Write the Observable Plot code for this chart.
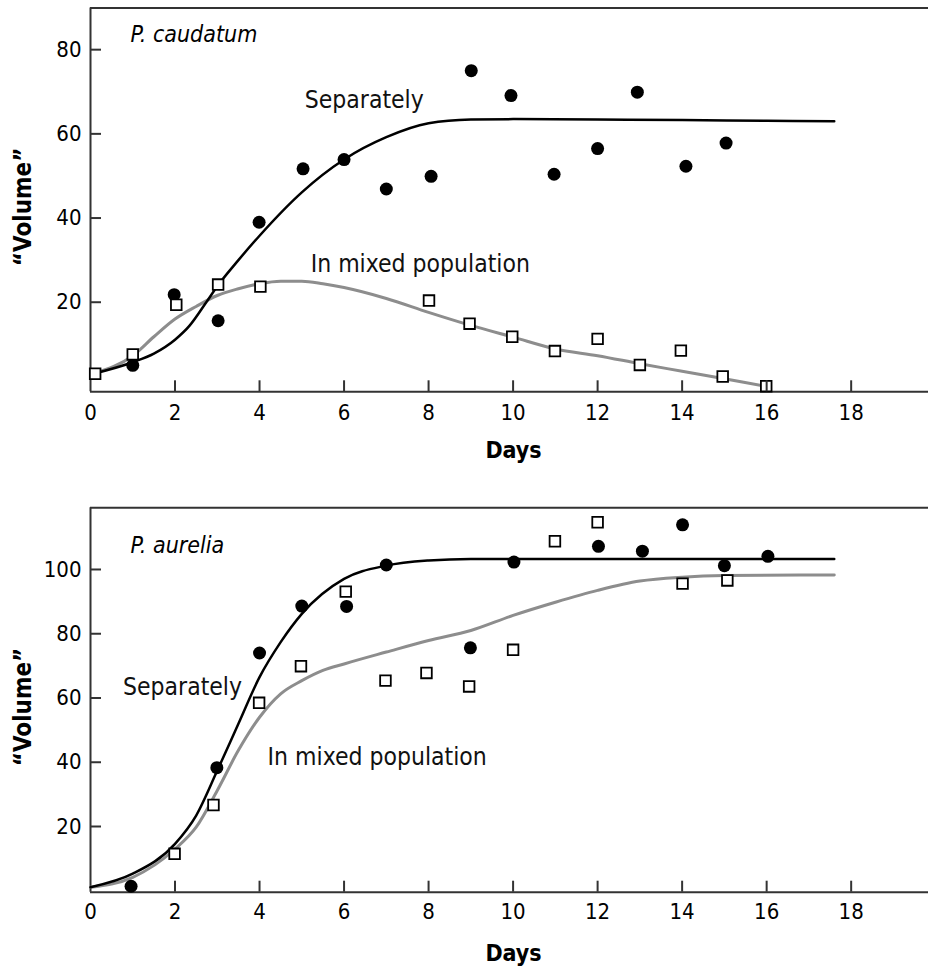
<!DOCTYPE html>
<html><head><meta charset="utf-8">
<script src="https://cdn.jsdelivr.net/npm/d3@7"></script>
<script src="https://cdn.jsdelivr.net/npm/@observablehq/plot@0.6"></script>
<style>
body{margin:0;background:#fff;}
#chart svg{display:block;}
</style></head><body><div id="chart"></div>
<script>
// ---------- data ----------
const xTicks = [0, 2, 4, 6, 8, 10, 12, 14, 16, 18];
const yTicksTop = [20, 40, 60, 80];
const yTicksBottom = [20, 40, 60, 80, 100];
const titleTop = "P. caudatum";
const titleBottom = "P. aurelia";
const yLabel = "\u201CVolume\u201D";
const xLabel = "Days";

// P. caudatum, grown separately (filled circles)
const cauSepDays = [1.0, 1.98, 3.02, 3.99, 5.03, 6.0, 7.0, 8.06, 9.01, 9.95, 10.97, 12.0, 12.94, 14.09, 15.04];
const cauSepVals = [5.0, 21.8, 15.6, 39.0, 51.7, 53.9, 46.9, 49.9, 75.0, 69.1, 50.4, 56.5, 69.9, 52.3, 57.8];
// P. caudatum, mixed population (open squares)
const cauMixDays = [0.11, 1.0, 2.03, 3.02, 4.02, 8.01, 8.97, 9.98, 10.99, 12.0, 13.0, 13.97, 14.96, 15.99];
const cauMixVals = [3.0, 7.6, 19.4, 24.2, 23.7, 20.4, 14.9, 11.8, 8.4, 11.3, 5.1, 8.5, 2.35, 0.05];
// fitted curves
const cauSepCurveDays = [0.1, 1, 1.5, 2, 2.35, 2.74, 3, 3.5, 4, 5, 6, 7, 8, 9, 10, 12, 14, 16, 17.6];
const cauSepCurveVals = [3.1, 5.75, 7.8, 11.1, 14.5, 20.0, 23.8, 30.0, 35.8, 46.1, 53.9, 59.2, 62.5, 63.4, 63.5, 63.4, 63.3, 63.1, 63.0];
const cauMixCurveDays = [0.1, 1, 1.5, 2, 2.5, 3, 3.5, 4, 4.5, 5, 5.5, 6, 7, 8, 9, 10, 11, 12, 13, 14, 15, 16];
const cauMixCurveVals = [3.1, 7.3, 11.8, 16.0, 19.0, 21.6, 23.2, 24.4, 25.0, 25.0, 24.4, 23.5, 20.9, 17.6, 14.5, 11.7, 8.9, 7.3, 5.4, 3.6, 1.8, 0];

// P. aurelia, grown separately
const aurSepDays = [0.96, 2.99, 4.0, 5.0, 6.06, 7.0, 8.99, 10.02, 12.02, 13.06, 14.01, 15.0, 16.03];
const aurSepVals = [1.4, 38.3, 74.0, 88.6, 88.5, 101.4, 75.6, 102.3, 107.2, 105.7, 113.9, 101.2, 104.1];
// P. aurelia, mixed population
const aurMixDays = [1.99, 2.91, 3.99, 4.98, 6.04, 6.98, 7.95, 8.96, 10.0, 10.99, 12.0, 14.01, 15.07];
const aurMixVals = [11.5, 26.7, 58.5, 69.9, 93.1, 65.4, 67.8, 63.6, 75.0, 108.8, 114.7, 95.6, 96.6];
const aurSepCurveDays = [0, 1, 2, 2.5, 3, 3.5, 4, 4.5, 5, 6, 7, 8, 9, 12, 17.6];
const aurSepCurveVals = [1.1, 5.3, 14.6, 23.4, 37.4, 52, 66.5, 77.4, 86.2, 97.1, 101.2, 102.8, 103.3, 103.3, 103.3];
const aurMixCurveDays = [0, 1, 2, 2.5, 3, 3.5, 4, 4.5, 5, 5.5, 6, 7, 8, 9, 10, 11, 12, 13, 14, 15, 17.6];
const aurMixCurveVals = [1.1, 4.2, 13, 19.8, 31.2, 43.7, 54, 61.3, 65.4, 68.6, 70.6, 74.3, 77.9, 81, 85.7, 89.8, 93.5, 96.4, 97.6, 98.1, 98.3];

// curve labels (anchored in data space)
const labelTexts = ["Separately", "In mixed population"];
const cauLabelDays = [5.07, 5.21];
const cauLabelVals = [67.9, 29.0];
const aurLabelDays = [0.77, 4.19];
const aurLabelVals = [63.3, 41.5];

// ---------- helpers ----------
const zip = (xs, ys) => xs.map((d, i) => ({day: d, value: ys[i]}));
const FONT = "'DejaVu Sans Condensed', 'DejaVu Sans', sans-serif";
const FRAME = "#333";
const GRAY = "#8d8d8d";
const W = 928, ML = 90, MR = 0, TICK = 11;

function panel({height, marginTop, marginBottom, yDomain, yTicks, title, titleDy,
                sepPts, mixPts, sepCurve, mixCurve, labels, xPad, daysDy, volDy}) {
  const xDomain = [0, 19.83];
  return Plot.plot({
    width: W, height,
    marginLeft: ML, marginRight: MR, marginTop, marginBottom,
    x: {domain: xDomain, label: null},
    y: {domain: yDomain, label: null},
    style: {fontFamily: FONT, fontStretch: "condensed", color: "#000", background: "#fff"},
    marks: [
      // frame: top, left, bottom
      Plot.ruleY([yDomain[1]], {stroke: FRAME, strokeWidth: 2}),
      Plot.ruleX([xDomain[0]], {stroke: FRAME, strokeWidth: 2}),
      Plot.ruleY([yDomain[0]], {stroke: FRAME, strokeWidth: 2}),
      // tick labels
      Plot.axisY({ticks: yTicks, tickSize: 0, tickPadding: 9, fontSize: 22, fill: "#000", label: null}),
      Plot.axisX({ticks: xTicks, tickSize: 0, tickPadding: xPad, fontSize: 22, fill: "#000", label: null}),
      // curves
      Plot.line(mixCurve, {x: "day", y: "value", curve: "monotone-x", stroke: GRAY, strokeWidth: 3}),
      Plot.line(sepCurve, {x: "day", y: "value", curve: "monotone-x", stroke: "#000", strokeWidth: 2.5}),
      // observations
      Plot.dot(sepPts, {x: "day", y: "value", r: 6.5, fill: "#000", stroke: "none"}),
      Plot.dot(mixPts, {x: "day", y: "value", symbol: "square", r: 6, fill: "#fff", stroke: "#000", strokeWidth: 1.8}),
      // annotations
      Plot.text(labels, {x: "day", y: "value", text: "label", textAnchor: "start", lineAnchor: "middle",
        fontSize: 24.5, fill: "#111"}),
      Plot.text([title], {frameAnchor: "top-left", dx: 40, dy: titleDy, textAnchor: "start", lineAnchor: "middle",
        fontSize: 23, fontStyle: "italic", fill: "#000"}),
      Plot.text([yLabel], {frameAnchor: "left", dx: -67, dy: volDy, rotate: -90, textAnchor: "middle", lineAnchor: "middle",
        fontSize: 24, fontWeight: "bold", fill: "#000"}),
      Plot.text([xLabel], {frameAnchor: "bottom", dx: 4, dy: daysDy, textAnchor: "middle", lineAnchor: "middle",
        fontSize: 23, fontWeight: "bold", fill: "#000"}),
      // inward tick marks (drawn last, pointing into the plot)
      Plot.axisY({ticks: yTicks, tickSize: TICK, fill: "none", dx: TICK, stroke: FRAME, strokeWidth: 2, label: null}),
      Plot.axisX({ticks: xTicks.slice(1), tickSize: TICK, fill: "none", dy: -TICK, stroke: FRAME, strokeWidth: 2, label: null})
    ]
  });
}

const topPanel = panel({
  height: 480, marginTop: 7.5, marginBottom: 88.7,
  yDomain: [-1.28, 89.9], yTicks: yTicksTop,
  title: titleTop, titleDy: 27,
  sepPts: zip(cauSepDays, cauSepVals), mixPts: zip(cauMixDays, cauMixVals),
  sepCurve: zip(cauSepCurveDays, cauSepCurveVals), mixCurve: zip(cauMixCurveDays, cauMixCurveVals),
  labels: labelTexts.map((t, i) => ({label: t, day: cauLabelDays[i], value: cauLabelVals[i]})),
  xPad: 13, daysDy: 59, volDy: 7
});
const bottomPanel = panel({
  height: 490, marginTop: 27.3, marginBottom: 78.3,
  yDomain: [-0.45, 119.2], yTicks: yTicksBottom,
  title: titleBottom, titleDy: 37.4,
  sepPts: zip(aurSepDays, aurSepVals), mixPts: zip(aurMixDays, aurMixVals),
  sepCurve: zip(aurSepCurveDays, aurSepCurveVals), mixCurve: zip(aurMixCurveDays, aurMixCurveVals),
  labels: labelTexts.map((t, i) => ({label: t, day: aurLabelDays[i], value: aurLabelVals[i]})),
  xPad: 11, daysDy: 61, volDy: 7
});
document.getElementById("chart").append(topPanel, bottomPanel);
</script></body></html>
